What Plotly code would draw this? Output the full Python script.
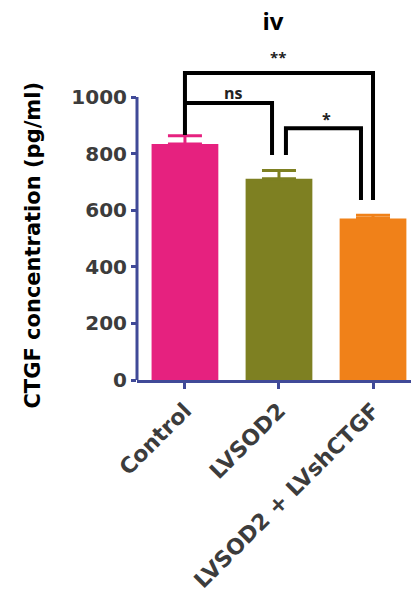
import plotly.graph_objects as go

categories = ["Control", "LVSOD2", "LVSOD2 + LVshCTGF"]
means = [834, 711, 571]
errors = [29, 29, 11]
bar_colors = ["#E6217F", "#7E8022", "#F08119"]
err_colors = ["#E6217F", "#7E8022", "#F08119"]
y_ticks = [0, 200, 400, 600, 800, 1000]

# significance brackets: (x_left, x_right, y_top, y_left_bottom, y_right_bottom)
brackets = [
    (0.0, 2.0, 1085, 866, 636),
    (0.0, 0.926, 979, 979, 795),
    (1.074, 1.872, 890, 795, 636),
]
labels = ["**", "ns", "*"]
label_x = [0.99, 0.52, 1.5]
label_y = [1141, 1014, 922]
label_sizes = [15, 16, 16]

AXIS = "#404A98"
GRAY = "#3C3C3C"
FONT = "DejaVu Sans"

fig = go.Figure()
for i, c in enumerate(categories):
    fig.add_trace(go.Bar(
        x=[i], y=[means[i]], width=0.71,
        marker=dict(color=bar_colors[i], line=dict(width=0)),
        error_y=dict(type="data", array=[errors[i]], arrayminus=[0], symmetric=False,
                     thickness=3, width=17, color=err_colors[i]),
        showlegend=False,
    ))

shapes = []
# y-axis line (only up to 1000)
shapes.append(dict(type="line", xref="paper", yref="y", x0=0, x1=0, y0=-20, y1=1000,
                   line=dict(color=AXIS, width=3)))
for (xl, xr, yt, ylb, yrb) in brackets:
    shapes.append(dict(type="path", xref="x", yref="y",
                       path=f"M {xl},{ylb} L {xl},{yt} L {xr},{yt} L {xr},{yrb}",
                       line=dict(color="black", width=4)))

annotations = []
for t, x, y, s in zip(labels, label_x, label_y, label_sizes):
    annotations.append(dict(text=t, x=x, y=y, xref="x", yref="y", showarrow=False,
                            font=dict(family="Open Sans", size=s, color="#222222", weight="bold"),
                            xanchor="center", yanchor="middle"))
annotations.append(dict(text="CTGF concentration (pg/ml)", textangle=-90,
                        x=-0.383, y=0.41, xref="paper", yref="paper", showarrow=False,
                        font=dict(family=FONT, size=21, color="black", weight="bold"),
                        xanchor="center", yanchor="middle"))

fig.update_layout(
    width=411, height=600,
    margin=dict(l=137, r=0, t=52, b=220),
    paper_bgcolor="white", plot_bgcolor="white",
    barmode="overlay",
    title=dict(text="iv", x=273/411, xref="container", xanchor="center",
               y=1 - 22/600, yref="container", yanchor="middle",
               font=dict(family="Open Sans", size=24, color="black", weight="bold")),
    shapes=shapes, annotations=annotations,
    xaxis=dict(range=[-0.51, 2.404], tickmode="array", tickvals=[0, 1, 2], ticktext=categories,
               tickangle=-45, showline=True, linecolor=AXIS, linewidth=3,
               ticks="outside", ticklen=6, tickwidth=3, tickcolor=AXIS,
               tickfont=dict(family=FONT, size=22, color=GRAY, weight="bold"),
               showgrid=False, zeroline=False, fixedrange=True),
    yaxis=dict(range=[0, 1159], tickmode="array", tickvals=y_ticks,
               showline=False, ticks="outside", ticklen=5, tickwidth=3, tickcolor=AXIS,
               tickfont=dict(family=FONT, size=20, color=GRAY, weight="bold"),
               showgrid=False, zeroline=False, fixedrange=True),
)

fig.write_html("out.html")
